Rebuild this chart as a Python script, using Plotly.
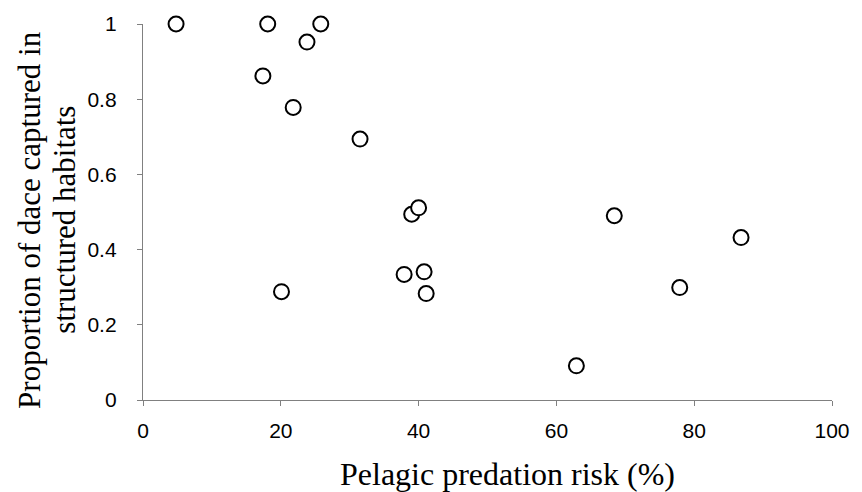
import plotly.graph_objects as go

# Pelagic predation risk (%) and proportion of dace captured in structured habitats
risk = [4.8, 18.1, 25.8, 23.8, 17.4, 21.8, 31.5, 39.0, 40.0, 37.9, 40.8, 41.1, 20.1, 68.4, 86.8, 77.9, 62.9]
proportion = [1.0, 1.0, 1.0, 0.952, 0.862, 0.778, 0.694, 0.494, 0.511, 0.334, 0.341, 0.283, 0.288, 0.490, 0.432, 0.299, 0.091]

x_ticks = [0, 20, 40, 60, 80, 100]
y_ticks = [0, 0.2, 0.4, 0.6, 0.8, 1]
y_tick_labels = ["0", "0.2", "0.4", "0.6", "0.8", "1"]

x_title = "Pelagic predation risk (%)"
y_title_lines = ["Proportion of dace captured in", "structured habitats"]

fig = go.Figure()
fig.add_trace(go.Scatter(
    x=risk, y=proportion, mode="markers",
    marker=dict(symbol="circle", size=15, color="white",
                line=dict(color="black", width=2)),
    cliponaxis=False, showlegend=False,
))

axis_common = dict(
    showline=True, linecolor="#808080", linewidth=1.3,
    ticks="outside", ticklen=5, tickcolor="#808080", tickwidth=1.3,
    showgrid=False, zeroline=False,
    tickfont=dict(family="Liberation Sans, Arial, sans-serif", size=21, color="black"),
)

title_font = dict(family="Liberation Serif, Times New Roman, serif", size=31, color="black")
x_title_font = dict(family="Liberation Serif, Times New Roman, serif", size=32, color="black")

fig.update_layout(
    width=862, height=492,
    margin=dict(l=143, r=23, t=24, b=92),
    paper_bgcolor="white", plot_bgcolor="white",
    xaxis=dict(range=[0, 100], tickvals=x_ticks, ticklabelstandoff=7, **axis_common),
    yaxis=dict(range=[0, 1], tickvals=y_ticks, ticktext=y_tick_labels,
               ticklabelstandoff=16, **axis_common),
)

fig.add_annotation(text=x_title, xref="paper", yref="paper", x=0.529, y=-0.197,
                   xanchor="center", yanchor="middle", showarrow=False, font=x_title_font)
fig.add_annotation(text=y_title_lines[0], xref="paper", yref="paper", x=-0.164, y=0.479,
                   xanchor="center", yanchor="middle", textangle=-90, showarrow=False, font=title_font)
fig.add_annotation(text=y_title_lines[1], xref="paper", yref="paper", x=-0.1135, y=0.479,
                   xanchor="center", yanchor="middle", textangle=-90, showarrow=False, font=title_font)

fig.write_html("out.html")
